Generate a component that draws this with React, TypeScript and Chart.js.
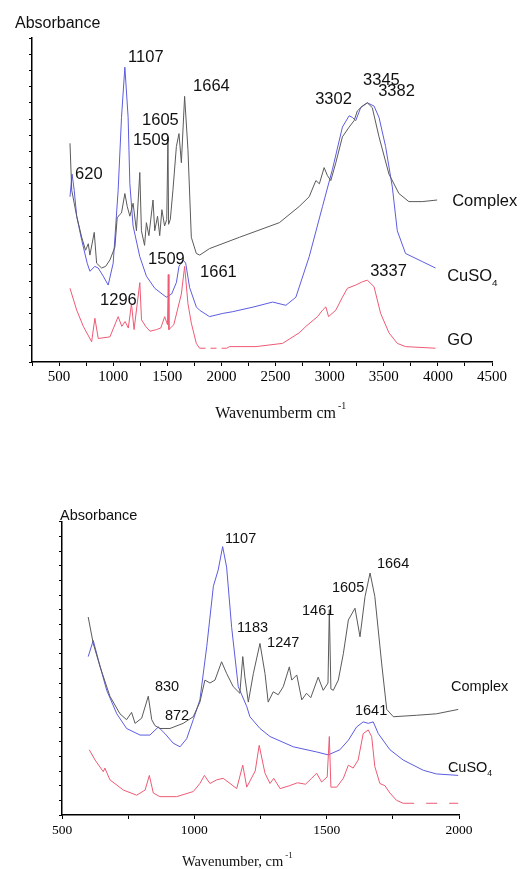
import React, { useEffect, useRef } from 'react';
import { Chart, registerables } from 'chart.js';

Chart.register(...registerables);

const SANS = '"Liberation Sans", Arial, Helvetica, sans-serif';
const SERIF = '"Liberation Serif", "Times New Roman", serif';

const COMPLEX_COLOR = '#5a5a5a';
const CUSO4_COLOR = '#5c5ce0';
const GO_COLOR = '#ee5a74';

// ---------------- Top chart (full range) ----------------
const topComplexWn = [601, 617, 640, 663, 709, 745, 770, 785, 825, 847, 893, 930, 970, 1016, 1037, 1060, 1077, 1108, 1130, 1154, 1184, 1215, 1246, 1261, 1290, 1307, 1330, 1368, 1384, 1410, 1430, 1450, 1475, 1495, 1506, 1512, 1528, 1552, 1584, 1608, 1630, 1660, 1691, 1722, 1768, 1800, 1890, 2167, 2535, 2719, 2811, 2873, 2905, 2949, 2980, 3011, 3057, 3118, 3180, 3226, 3256, 3302, 3348, 3394, 3456, 3548, 3640, 3732, 3855, 3993];
const topComplexAbs = [13.5, 10.6, 9.8, 9.0, 7.7, 6.9, 7.3, 6.6, 8.0, 6.1, 5.8, 5.9, 6.3, 7.1, 8.9, 9.1, 9.2, 10.4, 9.6, 9.0, 9.8, 8.1, 11.7, 8.1, 7.2, 8.6, 7.8, 10.0, 8.1, 9.0, 7.8, 9.4, 8.4, 8.8, 13.9, 8.5, 8.8, 10.6, 13.3, 14.1, 12.3, 16.4, 13.1, 7.7, 6.7, 6.6, 7.0, 7.7, 8.6, 9.6, 10.2, 11.2, 11.0, 12.0, 11.5, 11.2, 12.3, 13.9, 14.5, 14.9, 15.5, 15.8, 16.0, 15.7, 13.9, 11.6, 10.4, 9.9, 9.9, 10.0];

const topCuso4Wn = [601, 620, 640, 663, 710, 760, 785, 830, 862, 908, 954, 1000, 1046, 1077, 1108, 1138, 1154, 1184, 1246, 1307, 1384, 1491, 1540, 1584, 1608, 1645, 1670, 1706, 1768, 1798, 1890, 2013, 2100, 2300, 2473, 2596, 2688, 2811, 2934, 3026, 3118, 3180, 3210, 3241, 3287, 3348, 3410, 3456, 3517, 3579, 3625, 3701, 3855, 3978];
const topCuso4Abs = [10.2, 11.6, 10.6, 9.0, 7.5, 6.1, 5.6, 5.9, 5.8, 5.3, 4.75, 6.1, 10.6, 15.1, 18.2, 15.1, 11.0, 8.4, 6.5, 5.3, 4.55, 4.0, 4.2, 4.9, 5.9, 6.3, 6.1, 4.6, 3.4, 3.2, 2.8, 3.0, 3.1, 3.4, 3.7, 3.5, 4.0, 6.5, 9.6, 11.9, 14.5, 15.2, 15.1, 14.9, 15.7, 16.0, 15.8, 15.1, 13.3, 10.8, 8.1, 6.7, 6.2, 5.8];

const topGoWn = [601, 663, 724, 801, 831, 862, 970, 1046, 1080, 1110, 1140, 1169, 1193, 1246, 1262, 1300, 1340, 1400, 1440, 1476, 1502, 1509, 1515, 1560, 1630, 1660, 1691, 1722, 1768, 1798, 2050, 2075, 2320, 2565, 2719, 2781, 2888, 2934, 2965, 2990, 3057, 3118, 3164, 3241, 3302, 3348, 3410, 3471, 3548, 3625, 3701, 3978];
const topGoAbs = [4.55, 3.2, 2.2, 1.25, 2.7, 1.45, 1.55, 2.8, 2.2, 2.5, 2.1, 3.6, 2.0, 4.9, 2.6, 2.2, 1.9, 2.0, 2.1, 2.8, 2.3, 5.4, 2.0, 2.3, 4.2, 5.9, 3.6, 2.4, 1.15, 0.85, 0.85, 0.95, 0.95, 1.15, 1.8, 2.2, 2.8, 3.2, 3.4, 2.8, 3.2, 4.0, 4.55, 4.75, 4.95, 5.05, 4.65, 3.0, 1.8, 1.15, 0.95, 0.85];
const topGoDashFrom = 1798;
const topGoDashTo = 2050;

const topLabelText = ['1107', '1664', '1605', '1509', '620', '3302', '3345', '3382', 'Complex', 'CuSO4', 'GO', '3337', '1509', '1661', '1296'];
const topLabelWn = [1138, 1738, 1267, 1184, 648, 2866, 3309, 3448, 4132, 4086, 4086, 3374, 1322, 1803, 879];
const topLabelAbs = [18.8, 17.0, 14.9, 13.7, 11.6, 16.2, 17.4, 16.7, 9.9, 5.25, 1.3, 5.6, 6.3, 5.5, 3.8];

// ---------------- Bottom chart (500-2000) ----------------
const botComplexWn = [599, 618, 644, 681, 719, 744, 763, 776, 801, 826, 839, 851, 870, 908, 958, 996, 1021, 1040, 1059, 1078, 1103, 1122, 1147, 1172, 1183, 1191, 1204, 1223, 1248, 1267, 1279, 1298, 1317, 1336, 1359, 1368, 1387, 1406, 1424, 1440, 1468, 1487, 1505, 1510, 1516, 1525, 1544, 1563, 1582, 1607, 1626, 1645, 1664, 1682, 1708, 1727, 1752, 1840, 1915, 1997];
const botComplexAbs = [13.5, 11.7, 10.1, 8.1, 6.9, 6.5, 7.0, 6.25, 6.6, 8.1, 6.5, 6.1, 5.9, 5.9, 6.25, 6.7, 7.7, 9.2, 9.0, 9.2, 10.45, 9.65, 8.75, 8.3, 10.8, 9.4, 7.7, 9.65, 11.7, 9.65, 7.7, 8.4, 8.2, 8.75, 10.1, 9.2, 9.55, 7.85, 8.3, 8.0, 9.4, 8.5, 9.0, 14.0, 8.6, 8.5, 9.2, 11.0, 13.3, 14.1, 12.15, 14.9, 16.5, 14.9, 10.3, 7.2, 6.7, 6.8, 6.9, 7.2];

const botCuso4Wn = [599, 618, 637, 669, 707, 744, 795, 832, 864, 889, 920, 946, 971, 996, 1021, 1047, 1072, 1090, 1107, 1122, 1141, 1166, 1198, 1210, 1248, 1286, 1374, 1462, 1506, 1550, 1582, 1613, 1638, 1657, 1676, 1695, 1739, 1789, 1865, 1915, 1997];
const botCuso4Abs = [10.8, 11.9, 10.6, 8.5, 6.9, 5.9, 5.45, 5.45, 6.0, 5.55, 4.9, 4.65, 5.2, 6.5, 7.85, 11.5, 15.6, 16.7, 18.3, 16.9, 12.8, 8.75, 7.4, 6.7, 5.9, 5.35, 4.65, 4.3, 4.1, 4.45, 5.1, 6.0, 6.35, 6.25, 6.35, 5.55, 4.45, 3.75, 3.05, 2.8, 2.7];

const botGoWn = [603, 625, 656, 662, 681, 732, 782, 814, 830, 845, 870, 933, 996, 1021, 1038, 1059, 1085, 1109, 1135, 1160, 1183, 1198, 1230, 1245, 1267, 1286, 1300, 1324, 1360, 1390, 1420, 1443, 1462, 1481, 1502, 1510, 1516, 1538, 1563, 1582, 1600, 1619, 1638, 1657, 1670, 1682, 1701, 1720, 1739, 1764, 1789, 1997];
const botGoAbs = [4.45, 3.75, 2.95, 3.2, 2.4, 1.7, 1.35, 1.7, 2.7, 1.5, 1.25, 1.25, 1.6, 2.15, 2.7, 2.15, 2.4, 2.5, 2.15, 1.8, 3.4, 1.9, 3.0, 4.75, 2.85, 2.15, 2.5, 1.8, 2.0, 2.2, 2.1, 2.5, 2.85, 2.25, 2.6, 5.35, 1.9, 1.9, 2.5, 3.4, 3.2, 3.75, 5.55, 5.8, 5.35, 3.3, 2.15, 2.0, 1.5, 1.0, 0.8, 0.8];
const botGoDashFrom = 1789;
const botGoDashTo = 1997;

const botLabelText = ['1107', '1183', '1247', '1461', '1605', '1664', '830', '872', 'Complex', '1641', 'CuSO4'];
const botLabelWn = [1116, 1161, 1275, 1407, 1520, 1690, 851, 889, 1970, 1607, 1958];
const botLabelAbs = [18.8, 12.75, 11.7, 13.9, 15.5, 17.1, 8.7, 6.75, 8.7, 7.1, 3.2];

const pts = (xs: number[], ys: number[]) => xs.map((x, i) => ({ x, y: ys[i] }));

const annotPlugin = {
  id: 'annot',
  afterDraw(chart: any, _args: any, opts: any) {
    const ctx = chart.ctx;
    const xs = chart.scales.x;
    const ys = chart.scales.y;
    const area = chart.chartArea;
    ctx.save();
    ctx.fillStyle = '#111';
    ctx.textAlign = 'left';
    // peak / series labels
    ctx.textBaseline = 'middle';
    const fs = opts.fontSize;
    opts.text.forEach((t: string, i: number) => {
      const px = xs.getPixelForValue(opts.wn[i]);
      const py = ys.getPixelForValue(opts.abs[i]);
      if (t === 'CuSO4') {
        ctx.font = `${fs}px ${SANS}`;
        ctx.fillText('CuSO', px, py);
        const w = ctx.measureText('CuSO').width;
        ctx.font = `${fs * 0.6}px ${SANS}`;
        ctx.fillText('4', px + w, py + fs * 0.4);
      } else {
        ctx.font = `${fs}px ${SANS}`;
        ctx.fillText(t, px, py);
      }
    });
    // y title
    ctx.textBaseline = 'alphabetic';
    ctx.font = `${opts.yTitleSize}px ${SANS}`;
    ctx.fillText('Absorbance', area.left + opts.yTitleDx, area.top + opts.yTitleDy);
    // x title
    ctx.font = `${opts.xTitleSize}px ${SERIF}`;
    const tx = xs.getPixelForValue(opts.xTitleWn);
    const ty = area.bottom + opts.xTitleDy;
    ctx.fillText(opts.xTitle, tx, ty);
    const tw = ctx.measureText(opts.xTitle).width;
    ctx.font = `${opts.xTitleSize * 0.62}px ${SERIF}`;
    ctx.fillText('-1', tx + tw + 2, ty - opts.xTitleSize * 0.55);
    ctx.restore();
  },
};

function makeConfig(p: {
  min: number; max: number;
  complex: any[]; cuso4: any[]; go: any[];
  dashFrom: number; dashTo: number; dash: number[];
  padTop: number; padRight: number; yWidth: number; xHeight: number;
  tickFont: number; tickPad: number;
  annot: any;
}) {
  const line = (data: any[], color: string, extra: any = {}) => ({
    data, borderColor: color, borderWidth: 1, pointRadius: 0, tension: 0, fill: false, ...extra,
  });
  return {
    type: 'line',
    data: {
      datasets: [
        line(p.go, GO_COLOR, {
          segment: {
            borderDash: (c: any) =>
              c.p0.parsed.x >= p.dashFrom && c.p1.parsed.x <= p.dashTo ? p.dash : undefined,
          },
        }),
        line(p.complex, COMPLEX_COLOR),
        line(p.cuso4, CUSO4_COLOR),
      ],
    },
    options: {
      animation: false,
      responsive: false,
      layout: { padding: { top: p.padTop, right: p.padRight, left: 0, bottom: 0 } },
      plugins: { legend: { display: false }, tooltip: { enabled: false }, annot: p.annot },
      scales: {
        x: {
          type: 'linear',
          min: p.min,
          max: p.max,
          afterFit: (s: any) => { s.height = p.xHeight; },
          grid: { drawOnChartArea: false, drawTicks: true, tickLength: 4, color: '#000', lineWidth: 1 },
          border: { display: true, color: '#000', width: 1.5 },
          ticks: {
            stepSize: 250,
            autoSkip: false,
            maxRotation: 0,
            padding: p.tickPad,
            color: '#000',
            font: { family: SERIF, size: p.tickFont },
            callback: (v: any) => (Number(v) % 500 === 0 ? String(v) : ''),
          },
        },
        y: {
          type: 'linear',
          min: 0,
          max: 20,
          afterFit: (s: any) => { s.width = p.yWidth; },
          grid: { drawOnChartArea: false, drawTicks: true, tickLength: 3, color: '#000', lineWidth: 1 },
          border: { display: true, color: '#000', width: 1.5 },
          ticks: { stepSize: 1, autoSkip: false, callback: () => '', font: { size: 1 } },
        },
      },
    },
    plugins: [annotPlugin],
  };
}

export default function App() {
  const topRef = useRef<HTMLCanvasElement>(null);
  const botRef = useRef<HTMLCanvasElement>(null);

  useEffect(() => {
    const c1 = new Chart(topRef.current as any, makeConfig({
      min: 250, max: 4500,
      complex: pts(topComplexWn, topComplexAbs),
      cuso4: pts(topCuso4Wn, topCuso4Abs),
      go: pts(topGoWn, topGoAbs),
      dashFrom: topGoDashFrom, dashTo: topGoDashTo, dash: [6, 5],
      padTop: 38, padRight: 28, yWidth: 32, xHeight: 78,
      tickFont: 15, tickPad: 2,
      annot: {
        text: topLabelText, wn: topLabelWn, abs: topLabelAbs, fontSize: 16.5,
        yTitleSize: 16, yTitleDx: -17, yTitleDy: -10,
        xTitle: 'Wavenumberm cm', xTitleSize: 16, xTitleWn: 1942, xTitleDy: 56,
      },
    }) as any);
    const c2 = new Chart(botRef.current as any, makeConfig({
      min: 500, max: 2000,
      complex: pts(botComplexWn, botComplexAbs),
      cuso4: pts(botCuso4Wn, botCuso4Abs),
      go: pts(botGoWn, botGoAbs),
      dashFrom: botGoDashFrom, dashTo: botGoDashTo, dash: [11, 12],
      padTop: 81.7, padRight: 61, yWidth: 62, xHeight: 54,
      tickFont: 13.5, tickPad: 3,
      annot: {
        text: botLabelText, wn: botLabelWn, abs: botLabelAbs, fontSize: 14.5,
        yTitleSize: 14.5, yTitleDx: -2, yTitleDy: -2,
        xTitle: 'Wavenumber, cm', xTitleSize: 14.5, xTitleWn: 953, xTitleDy: 51,
      },
    }) as any);
    return () => { c1.destroy(); c2.destroy(); };
  }, []);

  return (
    <div style={{ position: 'fixed', left: 0, top: 0, width: 520, height: 869, background: '#fff' }}>
      <canvas ref={topRef} width={520} height={440} style={{ position: 'absolute', left: 0, top: 0 }} />
      <canvas ref={botRef} width={520} height={429} style={{ position: 'absolute', left: 0, top: 440 }} />
    </div>
  );
}
